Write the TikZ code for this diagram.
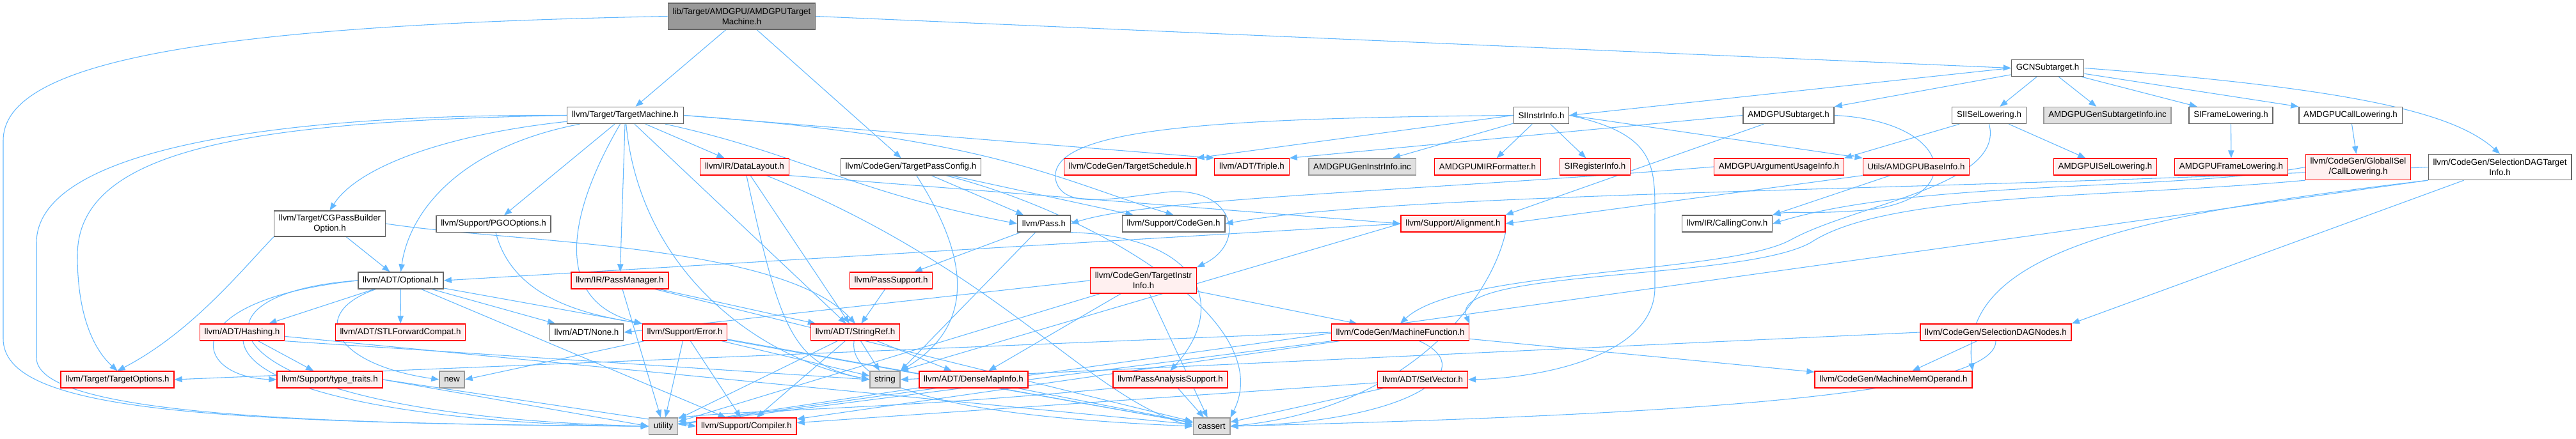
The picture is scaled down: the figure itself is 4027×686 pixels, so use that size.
\documentclass[tikz,border=0pt]{standalone}
\usepackage{fontspec}
\setmainfont{Liberation Sans}
\usetikzlibrary{arrows.meta,backgrounds}
\definecolor{edgeblue}{HTML}{63B8FF}
\definecolor{truncfill}{HTML}{FFF0F0}
\definecolor{sysfill}{HTML}{E0E0E0}
\definecolor{sysdraw}{HTML}{999999}
\definecolor{rootfill}{HTML}{999999}
\definecolor{filedraw}{HTML}{666666}

\begin{document}
\begin{tikzpicture}[x=0.75pt, y=-0.75pt,
  file/.style={draw=filedraw, fill=white, line width=1pt,
               font=\fontsize{10}{12}\selectfont,
               minimum height=19.5pt, inner xsep=5.5pt, inner ysep=1pt},
  trunc/.style={file, draw=red, fill=truncfill},
  sys/.style={file, draw=sysdraw, fill=sysfill},
  rootfile/.style={file, fill=rootfill, align=center, minimum height=30.75pt},
  two/.style={align=center, minimum height=30pt},
  arr/.style={-{Triangle[length=9pt,width=7pt]}, draw=edgeblue, line width=0.8pt}
]
\useasboundingbox (0,0) rectangle (4027,686);

\node[rootfile] (root) at (1159.5,25.5) {lib/Target/AMDGPU/AMDGPUTarget\\Machine.h};
\node[file] (tm) at (977.5,180.5) {llvm/Target/TargetMachine.h};
\node[file] (gcn) at (3201,106.5) {GCNSubtarget.h};
\node[file] (siinstr) at (2409.5,180.5) {SIInstrInfo.h};
\node[file] (amdsub) at (2796,180.5) {AMDGPUSubtarget.h};
\node[file] (sisel) at (3109.5,180.5) {SIISelLowering.h};
\node[sys]  (gensub) at (3294.5,180.5) {AMDGPUGenSubtargetInfo.inc};
\node[file] (siframe) at (3487.5,180.5) {SIFrameLowering.h};
\node[file] (amdcall) at (3674.5,180.5) {AMDGPUCallLowering.h};

\node[trunc] (dl) at (1164,261) {llvm/IR/DataLayout.h};
\node[file]  (tpc) at (1424,261) {llvm/CodeGen/TargetPassConfig.h};
\node[trunc] (tsched) at (1766.5,261) {llvm/CodeGen/TargetSchedule.h};
\node[trunc] (triple) at (1957,261) {llvm/ADT/Triple.h};
\node[sys]   (geninstr) at (2129.5,261) {AMDGPUGenInstrInfo.inc};
\node[trunc] (mirfmt) at (2325.5,261) {AMDGPUMIRFormatter.h};
\node[trunc] (sireg) at (2493.5,261) {SIRegisterInfo.h};
\node[trunc] (argusage) at (2781,261) {AMDGPUArgumentUsageInfo.h};
\node[trunc] (baseinfo) at (2995.5,261) {Utils/AMDGPUBaseInfo.h};
\node[trunc] (amdisel) at (3291,261) {AMDGPUISelLowering.h};
\node[trunc] (amdframe) at (3488,261) {AMDGPUFrameLowering.h};
\node[trunc, two] (calllow) at (3686.5,261.5) {llvm/CodeGen/GlobalISel\\/CallLowering.h};
\node[file, two]  (sdti) at (3908,261.5) {llvm/CodeGen/SelectionDAGTarget\\Info.h};

\node[file, two] (cgpbo) at (515.5,350) {llvm/Target/CGPassBuilder\\Option.h};
\node[file]  (pgo) at (771.5,350.5) {llvm/Support/PGOOptions.h};
\node[file]  (pass) at (1632,350) {llvm/Pass.h};
\node[file]  (cgen) at (1834.5,350) {llvm/Support/CodeGen.h};
\node[trunc] (align) at (2271.5,350) {llvm/Support/Alignment.h};
\node[file]  (ccv) at (2700,350) {llvm/IR/CallingConv.h};

\node[file]  (optional) at (626.5,439) {llvm/ADT/Optional.h};
\node[trunc] (pm) at (969,439) {llvm/IR/PassManager.h};
\node[trunc] (psupport) at (1393,439) {llvm/PassSupport.h};
\node[trunc, two] (tii) at (1787.5,439) {llvm/CodeGen/TargetInstr\\Info.h};

\node[trunc] (hashing) at (378.5,520) {llvm/ADT/Hashing.h};
\node[trunc] (stlfc) at (626,520) {llvm/ADT/STLForwardCompat.h};
\node[file]  (none) at (917,520) {llvm/ADT/None.h};
\node[trunc] (error) at (1070.5,520) {llvm/Support/Error.h};
\node[trunc] (sref) at (1337,520) {llvm/ADT/StringRef.h};
\node[trunc] (mf) at (2189,520) {llvm/CodeGen/MachineFunction.h};
\node[trunc] (sdnodes) at (3120,520) {llvm/CodeGen/SelectionDAGNodes.h};

\node[trunc] (topts) at (183.5,594) {llvm/Target/TargetOptions.h};
\node[trunc] (ttraits) at (515.5,594) {llvm/Support/type\_traits.h};
\node[sys]   (new) at (706.5,594) {new};
\node[sys]   (string) at (1383.5,594) {string};
\node[trunc] (dmi) at (1522,594) {llvm/ADT/DenseMapInfo.h};
\node[trunc] (pas) at (1829.5,594) {llvm/PassAnalysisSupport.h};
\node[trunc] (setvec) at (2224,594) {llvm/ADT/SetVector.h};
\node[trunc] (mmo) at (2960,594) {llvm/CodeGen/MachineMemOperand.h};

\node[sys]   (utility) at (1037,667) {utility};
\node[trunc] (compiler) at (1167,667) {llvm/Support/Compiler.h};
\node[sys]   (cassert) at (1894,667) {cassert};

\begin{scope}[on background layer]
% root
\draw[arr] (root) -- (tm);
\draw[arr] (root) -- (tpc);
\draw[arr] (root.east) -- (gcn.west);
\draw[arr] (root.west) .. controls (300,40) and (5,100) .. (5,220) -- (5,530)
  .. controls (5,640) and (300,662) .. (utility.west);
% target machine
\draw[arr] (tm) .. controls (700,210) and (560,260) .. (cgpbo.north);
\draw[arr] (tm) .. controls (720,230) and (640,330) .. (optional.north);
\draw[arr] (tm) -- (pgo);
\draw[arr] (tm) -- (pm);
\draw[arr] (tm) .. controls (890,330) and (860,470) .. (error.north west);
\draw[arr] (tm.west) .. controls (400,190) and (121,230) .. (121,400)
  .. controls (121,500) and (150,550) .. (topts.north);
\draw[arr] (tm.west) .. controls (450,178) and (57,230) .. (57,380) -- (57,560)
  .. controls (57,650) and (500,664) .. (utility.west);
\draw[arr] (tm) -- (dl);
\draw[arr] (tm.east) -- (triple.north west);
\draw[arr] (tm) .. controls (1250,240) and (1330,300) .. (pass.west);
\draw[arr] (tm.east) .. controls (1550,215) and (1650,280) .. (cgen.north);
\draw[arr] (tm) -- (sref);
\draw[arr] (tm) .. controls (1000,420) and (1180,560) .. (string.west);
% pass config
\draw[arr] (tpc) -- (pass);
\draw[arr] (tpc) -- (cgen);
\draw[arr] (tpc) .. controls (1500,380) and (1540,500) .. (string.north east);
\draw[arr] (tpc) .. controls (1700,330) and (2000,500) .. (cassert.north east);
% subtarget
\draw[arr] (gcn.west) -- (siinstr.east);
\draw[arr] (gcn) -- (amdsub.north east);
\draw[arr] (gcn) -- (sisel);
\draw[arr] (gcn) -- (gensub);
\draw[arr] (gcn) -- (siframe);
\draw[arr] (gcn) -- (amdcall.north west);
\draw[arr] (gcn.east) .. controls (3700,140) and (3840,180) .. (sdti.north);
% data layout
\draw[arr] (dl) -- (sref);
\draw[arr] (dl.south east) -- (align.west);
\draw[arr] (dl) .. controls (1220,520) and (1240,570) .. (string.west);
\draw[arr] (dl) .. controls (1560,420) and (1700,620) .. (cassert.west);
% instr info
\draw[arr] (siinstr.west) -- (tsched.north east);
\draw[arr] (siinstr.west) .. controls (1900,185) and (1640,200) .. (1650,280)
  .. controls (1660,330) and (1740,310) .. (1830,300)
  .. controls (1930,295) and (1950,380) .. (tii.north east);
\draw[arr] (siinstr) -- (geninstr);
\draw[arr] (siinstr) -- (mirfmt);
\draw[arr] (siinstr) -- (sireg);
\draw[arr] (siinstr.east) -- (baseinfo.north west);
\draw[arr] (siinstr.east) .. controls (2590,210) and (2587,260) .. (2587,340) -- (2587,450)
  .. controls (2587,560) and (2400,592) .. (setvec.east);
\draw[arr] (amdsub.west) -- (triple.north east);
\draw[arr] (amdsub) -- (align.north east);
\draw[arr] (amdsub.east) .. controls (3060,190) and (3080,320) .. (2900,330)
  .. controls (2830,335) and (2800,330) .. (ccv.north east);
\draw[arr] (argusage.west) .. controls (2200,300) and (1800,310) .. (pass.east);
\draw[arr] (baseinfo) -- (ccv.north east);
\draw[arr] (baseinfo.south west) -- (align.east);
% lowering
\draw[arr] (sisel) -- (amdisel);
\draw[arr] (sisel) -- (argusage.north east);
\draw[arr] (sisel.south) .. controls (3135,290) and (2900,320) .. (2800,375)
  .. controls (2700,430) and (2280,420) .. (mf.north);
\draw[arr] (siframe) -- (amdframe);
\draw[arr] (amdcall) -- (calllow);
\draw[arr] (calllow.west) .. controls (3400,300) and (3000,280) .. (ccv.east);
\draw[arr] (calllow.south west) .. controls (3300,310) and (2950,300) .. (2830,380)
  .. controls (2720,440) and (2260,420) .. (mf.north east);
\draw[arr] (sdti) -- (sdnodes.north east);
\draw[arr] (sdti.south west) .. controls (3400,330) and (3060,380) .. (mmo.north east);
\draw[arr] (sdti.west) .. controls (3000,300) and (2200,300) .. (cgen.east);
\draw[arr] (sdti.south west) -- (utility);
% pass
\draw[arr] (pass) -- (psupport);
\draw[arr] (pass) -- (string.north east);
\draw[arr] (pass.south east) .. controls (1880,370) and (1920,480) .. (pas.north);
\draw[arr] (psupport) -- (sref);
\draw[arr] (pas) -- (cassert);
\draw[arr] (pas.south west) .. controls (1400,640) and (1200,640) .. (utility.north east);
% builder options
\draw[arr] (cgpbo) -- (optional);
\draw[arr] (cgpbo.south west) .. controls (380,420) and (300,520) .. (topts.north);
\draw[arr] (cgpbo.east) .. controls (800,380) and (1220,380) .. (sref.north);
\draw[arr] (pgo) .. controls (800,460) and (900,490) .. (error.north west);
% optional
\draw[arr] (optional) -- (hashing);
\draw[arr] (optional) -- (stlfc);
\draw[arr] (optional) -- (none);
\draw[arr] (optional) .. controls (480,490) and (520,570) .. (new.west);
\draw[arr] (optional.west) .. controls (270,470) and (300,590) .. (ttraits.west);
\draw[arr] (optional.west) .. controls (260,460) and (320,650) .. (utility.west);
\draw[arr] (optional) -- (compiler);
\draw[arr] (optional) -- (cassert);
\draw[arr] (pm) -- (sref);
\draw[arr] (pm) -- (utility);
\draw[arr] (pm) -- (cassert);
% adt
\draw[arr] (hashing) -- (ttraits);
\draw[arr] (hashing.south east) -- (string.west);
\draw[arr] (hashing) -- (cassert);
\draw[arr] (hashing) .. controls (390,620) and (700,665) .. (utility.west);
\draw[arr] (ttraits.east) -- (utility.west);
\draw[arr] (ttraits.east) -- (compiler.west);
\draw[arr] (error) -- (new.east);
\draw[arr] (error) -- (string);
\draw[arr] (error) -- (compiler);
\draw[arr] (error) -- (cassert);
\draw[arr] (error) -- (utility);
\draw[arr] (sref) -- (string);
\draw[arr] (sref) -- (dmi);
\draw[arr] (sref) -- (utility);
\draw[arr] (sref) -- (compiler);
\draw[arr] (sref) .. controls (1320,640) and (1700,660) .. (cassert.west);
\draw[arr] (dmi) -- (cassert);
\draw[arr] (dmi) -- (utility);
% codegen
\draw[arr] (tii) -- (mf);
\draw[arr] (tii.west) -- (none.east);
\draw[arr] (tii) -- (dmi);
\draw[arr] (tii) -- (cassert);
\draw[arr] (tii) -- (utility);
\draw[arr] (align.west) -- (optional.east);
\draw[arr] (align.west) -- (string.north east);
\draw[arr] (align.south east) .. controls (2330,470) and (2200,640) .. (cassert.east);
\draw[arr] (mf) -- (mmo);
\draw[arr] (mf.west) -- (topts.east);
\draw[arr] (mf) -- (compiler);
\draw[arr] (mf) .. controls (2320,580) and (2200,660) .. (cassert.east);
\draw[arr] (mf) -- (utility);
\draw[arr] (setvec) -- (compiler);
\draw[arr] (setvec) -- (cassert);
\draw[arr] (sdnodes) -- (mmo);
\draw[arr] (sdnodes.south) .. controls (3120,620) and (2600,650) .. (cassert.east);
\draw[arr] (sdnodes.west) -- (string.east);
\end{scope}
\end{tikzpicture}
\end{document}
